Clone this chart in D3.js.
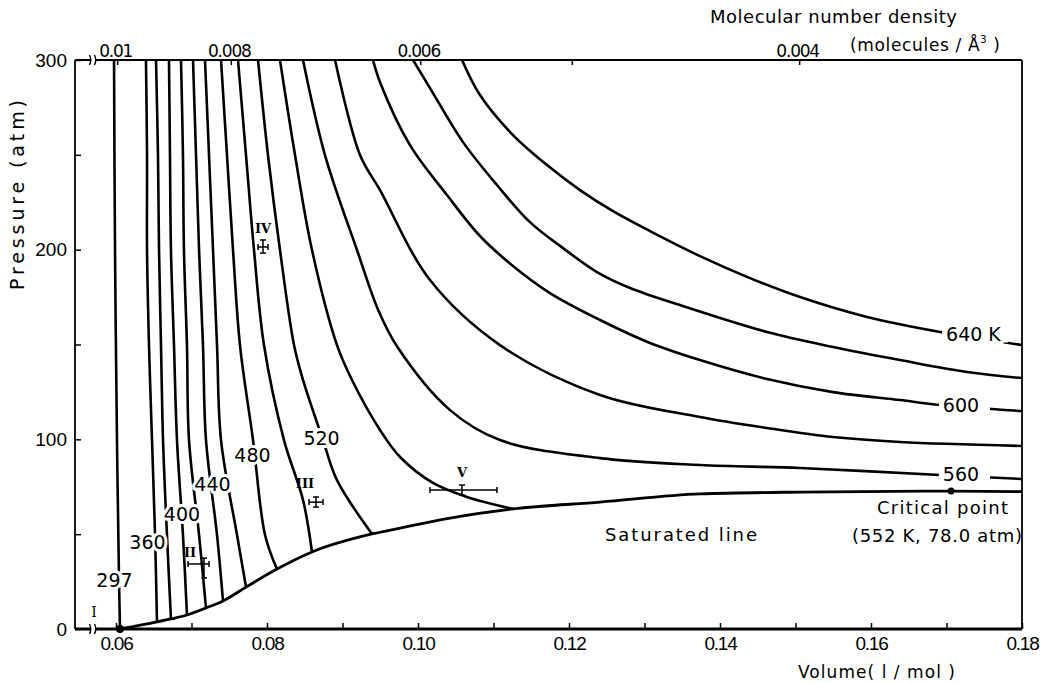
<!DOCTYPE html>
<html>
<head>
<meta charset="utf-8">
<script src="https://cdn.jsdelivr.net/npm/d3@7"></script>
<style>
  body { margin: 0; background: #fff; }
  svg { display: block; font-family: "DejaVu Sans", sans-serif; }
</style>
</head>
<body>
<svg id="chart" width="1047" height="683"></svg>
<script>
// Axis ticks
const volumeTicks = [0.06, 0.07, 0.08, 0.09, 0.10, 0.11, 0.12, 0.13, 0.14, 0.15, 0.16, 0.17, 0.18];
const volumeLabels = [0.06, 0.08, 0.10, 0.12, 0.14, 0.16, 0.18];
const pressureTicks = [0, 50, 100, 150, 200, 250, 300];
const pressureLabels = [0, 100, 200, 300];
const densityTicks = [0.01, 0.008, 0.006, 0.005, 0.004];
const densityLabels = ["0.01", "0.008", "0.006", "", "0.004"];
const NA_FACTOR = 6.022e-4; // volume (l/mol) = NA_FACTOR / density (molecules/A^3)

// Isotherms: [volume (l/mol), pressure (atm)]
const iso297 = [[0.05974, 300], [0.05987, 199.8], [0.06013, 99.6], [0.0604, 25.8], [0.06053, 0]];
const iso360 = [[0.06397, 300], [0.06411, 249.9], [0.06411, 199.8], [0.06437, 149.7], [0.06477, 99.6], [0.06517, 49.6], [0.06543, 3.7]];
const iso380 = [[0.0653, 300], [0.06556, 249.9], [0.0657, 199.8], [0.06596, 149.7], [0.06623, 99.6], [0.06675, 49.6], [0.06728, 5.3]];
const iso400 = [[0.06702, 300], [0.06715, 249.9], [0.06728, 199.8], [0.06768, 149.7], [0.06808, 99.6], [0.06887, 49.6], [0.0694, 7.4]];
const iso420 = [[0.06861, 300], [0.06887, 249.9], [0.069, 199.8], [0.0694, 149.7], [0.06967, 99.6], [0.071, 49.6], [0.07192, 11.1]];
const iso440 = [[0.0702, 300], [0.0706, 249.9], [0.071, 199.8], [0.07152, 149.7], [0.07192, 99.6], [0.07338, 49.6], [0.07417, 14.8]];
const iso460 = [[0.07179, 300], [0.07232, 249.9], [0.07285, 199.8], [0.07338, 149.7], [0.07391, 99.6], [0.07603, 49.6], [0.07722, 22.1]];
const iso480 = [[0.07391, 300], [0.0747, 249.9], [0.0755, 199.8], [0.07642, 149.7], [0.07815, 99.6], [0.07974, 49.6], [0.08132, 31.6]];
const iso500 = [[0.07616, 300], [0.07722, 249.9], [0.07828, 199.8], [0.0796, 149.7], [0.08225, 99.6], [0.08477, 68], [0.08596, 40.6]];
const iso520 = [[0.07881, 300], [0.08013, 249.9], [0.08172, 199.8], [0.08358, 149.7], [0.08477, 131.3], [0.08742, 99.6], [0.08927, 78.5], [0.09391, 50.1]];
const iso540 = [[0.08172, 300], [0.08371, 249.9], [0.08596, 199.8], [0.08927, 149.7], [0.09126, 131.3], [0.09497, 104.9], [0.09762, 90.7], [0.10199, 77.0], [0.10649, 69.6], [0.11258, 63.3]];
const iso560 = [[0.08477, 300], [0.08768, 249.9], [0.09192, 199.8], [0.0948, 167.5], [0.0973, 148.5], [0.10424, 115.4], [0.11086, 99.6], [0.12411, 90.1], [0.13735, 86.5], [0.1506, 84.9], [0.16914, 81.2], [0.18, 79.1]];
const iso580 = [[0.08901, 300], [0.09232, 249.9], [0.09497, 231.4], [0.10159, 184.0], [0.11086, 149.7], [0.12411, 123.4], [0.13735, 111.8], [0.14623, 106.0], [0.15497, 101.2], [0.16384, 98.6], [0.18, 96.5]];
const iso600 = [[0.09404, 300], [0.09497, 288.3], [0.09894, 255.1], [0.10384, 228.8], [0.10821, 207.2], [0.11258, 191.4], [0.11748, 177.1], [0.12411, 162.9], [0.13073, 150.8], [0.13735, 141.8], [0.14623, 131.8], [0.15497, 124.9], [0.16384, 120.7], [0.16914, 118.1], [0.18, 114.9]];
const iso620 = [[0.09934, 300], [0.10159, 285.2], [0.10596, 256.7], [0.11046, 234.1], [0.11483, 214.5], [0.11921, 200.8], [0.12371, 188.2], [0.12808, 179.8], [0.1347, 170.8], [0.14623, 156.6], [0.15497, 148.7], [0.16384, 141.8], [0.17272, 135.5], [0.18, 132.3]];
const iso640 = [[0.10583, 300], [0.10821, 281.5], [0.11258, 260.4], [0.11709, 244.6], [0.12146, 231.4], [0.12583, 220.3], [0.13073, 209.8], [0.13735, 196.6], [0.14397, 185.0], [0.1506, 175.0], [0.15947, 164.5], [0.16914, 156.6], [0.18, 149.7]];
const isotherms = [iso297, iso360, iso380, iso400, iso420, iso440, iso460, iso480, iso500, iso520, iso540, iso560, iso580, iso600, iso620, iso640];

// Saturated (liquid) line up to the critical point
const saturated = [[0.06053, 0], [0.06543, 3.7], [0.06728, 5.3], [0.0694, 7.4], [0.07192, 11.1], [0.07417, 14.8], [0.07722, 22.1], [0.08132, 31.6], [0.08596, 40.6], [0.09391, 50.1], [0.09762, 53.2], [0.10424, 58.5], [0.11258, 63.3], [0.12411, 66.9], [0.13735, 71.2], [0.1506, 72.2], [0.1706, 72.7], [0.18, 72.4]];
const startPoint = [0.06053, 0];
const criticalPoint = [0.1706, 72.7];

// Isotherm labels: text, volume, pressure, volume where the broken line resumes
const curveLabels = [
  ["297", 0.0598, 25.8], ["360", 0.06417, 45.6], ["400", 0.06874, 60.4], ["440", 0.07278, 76.2],
  ["480", 0.07808, 91.5], ["520", 0.08722, 100.4],
  ["640 K", 0.17357, 155.2, 0.17815], ["600", 0.17192, 117.8, 0.17576], ["560", 0.17192, 81.4, 0.17576]
];

// Experimental points II..V: label, label v, label p, centre v, centre p, [v0, v1], [p0, p1]
const expPoints = [
  ["II", 0.0698, 40.6, 0.07166, 34.3, [0.06954, 0.07232], [26.9, 37.4]],
  ["III", 0.08503, 77.0, 0.08649, 66.9, [0.08556, 0.08742], [64.3, 69.6]],
  ["IV", 0.07947, 211.4, 0.07947, 201.4, [0.07881, 0.08013], [198.2, 205.1]],
  ["V", 0.10583, 82.8, 0.10583, 73.3, [0.10159, 0.11046], [70.6, 75.9]]
];
const pointILabel = ["I", 0.05709, 9.0];

const svg = d3.select("#chart");
const plotLeft = 75, plotRight = 1022, plotTop = 60, plotBottom = 629;

const x = d3.scaleLinear().domain([0.05457, 0.18]).range([plotLeft, plotRight]);
const y = d3.scaleLinear().domain([0, 300]).range([plotBottom, plotTop]);

svg.append("rect").attr("width", 1047).attr("height", 683).attr("fill", "#fff");

// Curves
const line = d3.line()
  .x(d => x(d[0]))
  .y(d => y(d[1]))
  .curve(d3.curveCatmullRom.alpha(0.5));

svg.append("g")
  .selectAll("path")
  .data(isotherms)
  .join("path")
  .attr("d", line)
  .attr("fill", "none")
  .attr("stroke", "#000")
  .attr("stroke-width", 2.6);

svg.append("path")
  .attr("d", d3.line().x(d => x(d[0])).y(d => y(d[1])).curve(d3.curveMonotoneX)(saturated))
  .attr("fill", "none")
  .attr("stroke", "#000")
  .attr("stroke-width", 2.8);

// Frame
const frame = svg.append("g").attr("stroke", "#000").attr("fill", "none");
frame.append("line").attr("x1", plotLeft).attr("x2", plotRight).attr("y1", plotBottom).attr("y2", plotBottom).attr("stroke-width", 2.8);
frame.append("line").attr("x1", plotLeft).attr("x2", plotRight).attr("y1", plotTop).attr("y2", plotTop).attr("stroke-width", 2.2);
frame.append("line").attr("x1", plotLeft).attr("x2", plotLeft).attr("y1", plotTop).attr("y2", plotBottom).attr("stroke-width", 1.8);
frame.append("line").attr("x1", plotRight).attr("x2", plotRight).attr("y1", plotTop).attr("y2", plotBottom).attr("stroke-width", 1.8);

// Axis breaks
[plotTop, plotBottom].forEach(yy => {
  svg.append("rect").attr("x", 90).attr("y", yy - 2).attr("width", 6).attr("height", 4).attr("fill", "#fff");
  [90.5, 95.5].forEach(xx => {
    svg.append("path")
      .attr("d", `M${xx - 1},${yy + 5} Q${xx + 1.5},${yy} ${xx - 1},${yy - 5}`)
      .attr("fill", "none").attr("stroke", "#000").attr("stroke-width", 1.4);
  });
});

// Bottom axis
const xAxis = d3.axisBottom(x)
  .tickValues(volumeTicks)
  .tickSizeInner(-6)
  .tickSizeOuter(0)
  .tickPadding(8)
  .tickFormat(d => volumeLabels.includes(d) ? d3.format(".2f")(d) : "");
const gx = svg.append("g").attr("transform", `translate(0,${plotBottom})`).call(xAxis);
gx.select(".domain").remove();
gx.selectAll("line").attr("stroke-width", 1.5);
gx.selectAll("text").attr("font-size", 19).attr("letter-spacing", -1.2).attr("fill", "#000");

// Left axis
const yAxis = d3.axisLeft(y)
  .tickValues(pressureTicks)
  .tickSizeInner(-6)
  .tickSizeOuter(0)
  .tickPadding(8)
  .tickFormat(d => pressureLabels.includes(d) ? d : "");
const gy = svg.append("g").attr("transform", `translate(${plotLeft},0)`).call(yAxis);
gy.select(".domain").remove();
gy.selectAll("line").attr("stroke-width", 1.5);
gy.selectAll("text").attr("font-size", 19).attr("fill", "#000");

// Top axis: molecular number density
const gt = svg.append("g");
densityTicks.forEach((n, i) => {
  const xx = x(NA_FACTOR / n);
  gt.append("line").attr("x1", xx).attr("x2", xx).attr("y1", plotTop).attr("y2", plotTop + 5)
    .attr("stroke", "#000").attr("stroke-width", 1.5);
  if (densityLabels[i]) {
    gt.append("text").attr("x", xx - 2).attr("y", plotTop - 3)
      .attr("text-anchor", "middle").attr("font-size", 17).attr("letter-spacing", -1.2)
      .text(densityLabels[i]);
  }
});

// Dots
svg.append("circle").attr("cx", x(startPoint[0])).attr("cy", y(startPoint[1])).attr("r", 4);
svg.append("circle").attr("cx", x(criticalPoint[0])).attr("cy", y(criticalPoint[1])).attr("r", 3.5);

// Isotherm labels, breaking the line they sit on
const labelG = svg.append("g");
curveLabels.forEach(d => {
  const t = labelG.append("text")
    .attr("x", x(d[1]))
    .attr("y", y(d[2]))
    .attr("dy", "0.36em")
    .attr("text-anchor", "middle")
    .attr("font-size", 19)
    .attr("paint-order", "stroke")
    .attr("stroke", "#fff")
    .attr("stroke-width", 6)
    .attr("stroke-linejoin", "round")
    .text(d[0]);
  if (d[3]) {
    const bb = t.node().getBBox();
    labelG.insert("rect", () => t.node())
      .attr("x", bb.x - 4).attr("y", bb.y + 3)
      .attr("width", x(d[3]) - bb.x + 4).attr("height", bb.height - 6)
      .attr("fill", "#fff");
  }
});

// Experimental points with error bars
const ep = svg.append("g").attr("stroke", "#000").attr("stroke-width", 1.5);
expPoints.forEach(d => {
  const [lab, lv, lp, cv, cp, vr, pr] = d;
  const cx = x(cv), cy = y(cp);
  ep.append("line").attr("x1", x(vr[0])).attr("x2", x(vr[1])).attr("y1", cy).attr("y2", cy);
  ep.append("line").attr("x1", x(vr[0])).attr("x2", x(vr[0])).attr("y1", cy - 3).attr("y2", cy + 3);
  ep.append("line").attr("x1", x(vr[1])).attr("x2", x(vr[1])).attr("y1", cy - 3).attr("y2", cy + 3);
  ep.append("line").attr("x1", cx).attr("x2", cx).attr("y1", y(pr[0])).attr("y2", y(pr[1]));
  ep.append("line").attr("x1", cx - 3).attr("x2", cx + 3).attr("y1", y(pr[0])).attr("y2", y(pr[0]));
  ep.append("line").attr("x1", cx - 3).attr("x2", cx + 3).attr("y1", y(pr[1])).attr("y2", y(pr[1]));
  svg.append("text").attr("x", x(lv)).attr("y", y(lp)).attr("dy", "0.36em")
    .attr("text-anchor", "middle").attr("font-family", "DejaVu Serif").attr("font-weight", "bold")
    .attr("font-size", 13).text(lab);
});
svg.append("text").attr("x", x(pointILabel[1])).attr("y", y(pointILabel[2])).attr("dy", "0.36em")
  .attr("text-anchor", "middle").attr("font-family", "DejaVu Serif").attr("font-size", 14)
  .text(pointILabel[0]);

// Annotations
function label(txt, xx, yy, size, len) {
  return svg.append("text").attr("x", xx).attr("y", yy).attr("font-size", size)
    .attr("textLength", len).attr("lengthAdjust", "spacing").text(txt);
}
label("Saturated line", 605, 541, 18, 152);
label("Critical point", 877, 514, 18, 131);
label("(552 K, 78.0 atm)", 852, 542, 18, 170);
label("Volume( l / mol )", 798, 678, 17, 157);
label("Molecular number density", 710, 23, 18, 247);

const dens = svg.append("text").attr("x", 850).attr("y", 51).attr("font-size", 17)
  .attr("textLength", 150).attr("lengthAdjust", "spacing");
dens.append("tspan").text("(molecules / Å");
dens.append("tspan").attr("dy", -8).attr("font-size", 10).text("3");
dens.append("tspan").attr("dy", 8).text(" )");

svg.append("text")
  .attr("transform", "translate(24,195) rotate(-90)")
  .attr("text-anchor", "middle")
  .attr("font-size", 19)
  .attr("textLength", 190).attr("lengthAdjust", "spacing")
  .text("Pressure (atm)");
</script>
</body>
</html>
